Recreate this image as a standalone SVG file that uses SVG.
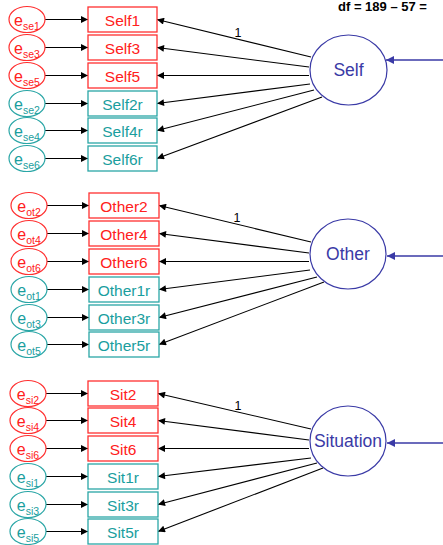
<svg xmlns="http://www.w3.org/2000/svg" width="443" height="545" viewBox="0 0 443 545">
  <defs>
    <marker id="ah" viewBox="0 0 10 10" refX="10" refY="5" markerWidth="8" markerHeight="7" markerUnits="userSpaceOnUse" orient="auto">
      <path d="M0,0 L10,5 L0,10 z" fill="#000"/>
    </marker>
    <marker id="ahb" viewBox="0 0 10 10" refX="10" refY="5" markerWidth="8" markerHeight="8" markerUnits="userSpaceOnUse" orient="auto">
      <path d="M0,0 L10,5 L0,10 z" fill="#3a3aa6"/>
    </marker>
    <style>
      text { font-family: "Liberation Sans", Arial, sans-serif; }
      .bx-r { fill: #fff; stroke: #ff3030; stroke-width: 1.3; }
      .bx-t { fill: #fff; stroke: #2aa6a6; stroke-width: 1.3; }
      .el-r { fill: #fff; stroke: #ff3030; stroke-width: 1.2; }
      .el-t { fill: #fff; stroke: #2aa6a6; stroke-width: 1.2; }
      .tr { fill: #ff2020; font-size: 15.5px; text-anchor: middle; }
      .tt { fill: #1a9e9e; font-size: 15.5px; text-anchor: middle; }
      .er { fill: #ff2020; font-size: 16px; text-anchor: middle; }
      .et { fill: #1a9e9e; font-size: 16px; text-anchor: middle; }
      .sub { font-size: 10.5px; }
      .lat { fill: #fff; stroke: #3a3aa6; stroke-width: 1.2; }
      .lt { fill: #3a3aa6; font-size: 17.5px; text-anchor: middle; }
      .ln { stroke: #000; stroke-width: 1.1; fill: none; marker-end: url(#ah); }
      .lb { stroke: #3a3aa6; stroke-width: 1.3; fill: none; marker-end: url(#ahb); }
      .one { font-size: 12.5px; fill: #000; text-anchor: middle; }
    </style>
  </defs>

  <text x="338" y="11" font-size="13" font-weight="bold" fill="#000">df = 189 – 57 =</text>

  <!-- connectors -->
  <g id="connectors">
    <!-- errors to indicators: Self -->
    <line class="ln" x1="45" y1="19.5" x2="88" y2="19.5"/>
    <line class="ln" x1="45" y1="47.5" x2="88" y2="47.5"/>
    <line class="ln" x1="45" y1="75.5" x2="88" y2="75.5"/>
    <line class="ln" x1="45" y1="103.5" x2="88" y2="103.5"/>
    <line class="ln" x1="45" y1="130.5" x2="88" y2="130.5"/>
    <line class="ln" x1="45" y1="158.5" x2="88" y2="158.5"/>
    <!-- errors to indicators: Other -->
    <line class="ln" x1="47" y1="205.5" x2="89" y2="205.5"/>
    <line class="ln" x1="47" y1="233.5" x2="89" y2="233.5"/>
    <line class="ln" x1="47" y1="261.5" x2="89" y2="261.5"/>
    <line class="ln" x1="47" y1="289.5" x2="89" y2="289.5"/>
    <line class="ln" x1="47" y1="317.5" x2="89" y2="317.5"/>
    <line class="ln" x1="47" y1="344.5" x2="89" y2="344.5"/>
    <!-- errors to indicators: Situation -->
    <line class="ln" x1="46" y1="393.5" x2="88" y2="393.5"/>
    <line class="ln" x1="46" y1="420.5" x2="88" y2="420.5"/>
    <line class="ln" x1="46" y1="448.5" x2="88" y2="448.5"/>
    <line class="ln" x1="46" y1="476.5" x2="88" y2="476.5"/>
    <line class="ln" x1="46" y1="504.5" x2="88" y2="504.5"/>
    <line class="ln" x1="46" y1="531.5" x2="88" y2="531.5"/>

    <!-- loadings: Self -->
    <line class="ln" x1="311" y1="57" x2="157" y2="19.5"/>
    <line class="ln" x1="309" y1="67" x2="157" y2="47.5"/>
    <line class="ln" x1="309" y1="75.5" x2="157" y2="75.5"/>
    <line class="ln" x1="310" y1="84" x2="157" y2="103.5"/>
    <line class="ln" x1="314" y1="90" x2="157" y2="130.5"/>
    <line class="ln" x1="322" y1="97" x2="157" y2="158.5"/>
    <!-- loadings: Other -->
    <line class="ln" x1="311" y1="242" x2="159" y2="205.5"/>
    <line class="ln" x1="309" y1="253" x2="159" y2="233.5"/>
    <line class="ln" x1="309" y1="261.5" x2="159" y2="261.5"/>
    <line class="ln" x1="310" y1="270" x2="159" y2="289.5"/>
    <line class="ln" x1="317" y1="277" x2="159" y2="317.5"/>
    <line class="ln" x1="324" y1="282" x2="159" y2="344.5"/>
    <!-- loadings: Situation -->
    <line class="ln" x1="311" y1="429" x2="158" y2="393.5"/>
    <line class="ln" x1="309" y1="440" x2="158" y2="420.5"/>
    <line class="ln" x1="309" y1="448.5" x2="158" y2="448.5"/>
    <line class="ln" x1="311" y1="458" x2="158" y2="476.5"/>
    <line class="ln" x1="317" y1="463" x2="158" y2="504.5"/>
    <line class="ln" x1="323" y1="468" x2="158" y2="531.5"/>

    <!-- incoming paths to latent factors -->
    <line class="lb" x1="443" y1="60" x2="386" y2="60"/>
    <line class="lb" x1="443" y1="256" x2="387" y2="256"/>
    <line class="lb" x1="443" y1="443" x2="387" y2="443"/>

    <text class="one" x="238" y="37">1</text>
    <text class="one" x="237" y="222">1</text>
    <text class="one" x="238" y="410">1</text>
  </g>

  <!-- latent factors -->
  <g id="Self"><ellipse class="lat" cx="348.5" cy="70" rx="38.5" ry="35"/><text class="lt" x="348.5" y="76">Self</text></g>
  <g id="Other"><ellipse class="lat" cx="348" cy="254" rx="38" ry="35"/><text class="lt" x="348" y="260">Other</text></g>
  <g id="Situation"><ellipse class="lat" cx="348" cy="441" rx="38" ry="35"/><text class="lt" x="348" y="447">Situation</text></g>

  <!-- Self indicators -->
  <g id="Self1"><rect class="bx-r" x="88" y="7" width="69" height="25"/><text class="tr" x="122.5" y="25.5">Self1</text></g>
  <g id="Self3"><rect class="bx-r" x="88" y="35" width="69" height="25"/><text class="tr" x="122.5" y="53.5">Self3</text></g>
  <g id="Self5"><rect class="bx-r" x="88" y="63" width="69" height="25"/><text class="tr" x="122.5" y="81.5">Self5</text></g>
  <g id="Self2r"><rect class="bx-t" x="88" y="91" width="69" height="25"/><text class="tt" x="122.5" y="109.5">Self2r</text></g>
  <g id="Self4r"><rect class="bx-t" x="88" y="118" width="69" height="25"/><text class="tt" x="122.5" y="136.5">Self4r</text></g>
  <g id="Self6r"><rect class="bx-t" x="88" y="146" width="69" height="25"/><text class="tt" x="122.5" y="164.5">Self6r</text></g>

  <!-- Self errors -->
  <g id="ese1"><ellipse class="el-r" cx="27" cy="19.5" rx="18" ry="13"/><text class="er" x="27" y="25.5">e<tspan class="sub" dy="4">se1</tspan></text></g>
  <g id="ese3"><ellipse class="el-r" cx="27" cy="47.5" rx="18" ry="13"/><text class="er" x="27" y="53.5">e<tspan class="sub" dy="4">se3</tspan></text></g>
  <g id="ese5"><ellipse class="el-r" cx="27" cy="75.5" rx="18" ry="13"/><text class="er" x="27" y="81.5">e<tspan class="sub" dy="4">se5</tspan></text></g>
  <g id="ese2"><ellipse class="el-t" cx="27" cy="103.5" rx="18" ry="13"/><text class="et" x="27" y="109.5">e<tspan class="sub" dy="4">se2</tspan></text></g>
  <g id="ese4"><ellipse class="el-t" cx="27" cy="130.5" rx="18" ry="13"/><text class="et" x="27" y="136.5">e<tspan class="sub" dy="4">se4</tspan></text></g>
  <g id="ese6"><ellipse class="el-t" cx="27" cy="158.5" rx="18" ry="13"/><text class="et" x="27" y="164.5">e<tspan class="sub" dy="4">se6</tspan></text></g>

  <!-- Other indicators -->
  <g id="Other2"><rect class="bx-r" x="89" y="193" width="70" height="25"/><text class="tr" x="124" y="211.5">Other2</text></g>
  <g id="Other4"><rect class="bx-r" x="89" y="221" width="70" height="25"/><text class="tr" x="124" y="239.5">Other4</text></g>
  <g id="Other6"><rect class="bx-r" x="89" y="249" width="70" height="25"/><text class="tr" x="124" y="267.5">Other6</text></g>
  <g id="Other1r"><rect class="bx-t" x="89" y="277" width="70" height="25"/><text class="tt" x="124" y="295.5">Other1r</text></g>
  <g id="Other3r"><rect class="bx-t" x="89" y="305" width="70" height="25"/><text class="tt" x="124" y="323.5">Other3r</text></g>
  <g id="Other5r"><rect class="bx-t" x="89" y="332" width="70" height="25"/><text class="tt" x="124" y="350.5">Other5r</text></g>

  <!-- Other errors -->
  <g id="eot2"><ellipse class="el-r" cx="29" cy="205.5" rx="18" ry="13"/><text class="er" x="29" y="211.5">e<tspan class="sub" dy="4">ot2</tspan></text></g>
  <g id="eot4"><ellipse class="el-r" cx="29" cy="233.5" rx="18" ry="13"/><text class="er" x="29" y="239.5">e<tspan class="sub" dy="4">ot4</tspan></text></g>
  <g id="eot6"><ellipse class="el-r" cx="29" cy="261.5" rx="18" ry="13"/><text class="er" x="29" y="267.5">e<tspan class="sub" dy="4">ot6</tspan></text></g>
  <g id="eot1"><ellipse class="el-t" cx="29" cy="289.5" rx="18" ry="13"/><text class="et" x="29" y="295.5">e<tspan class="sub" dy="4">ot1</tspan></text></g>
  <g id="eot3"><ellipse class="el-t" cx="29" cy="317.5" rx="18" ry="13"/><text class="et" x="29" y="323.5">e<tspan class="sub" dy="4">ot3</tspan></text></g>
  <g id="eot5"><ellipse class="el-t" cx="29" cy="344.5" rx="18" ry="13"/><text class="et" x="29" y="350.5">e<tspan class="sub" dy="4">ot5</tspan></text></g>

  <!-- Situation indicators -->
  <g id="Sit2"><rect class="bx-r" x="88" y="381" width="70" height="25"/><text class="tr" x="123" y="399.5">Sit2</text></g>
  <g id="Sit4"><rect class="bx-r" x="88" y="408" width="70" height="25"/><text class="tr" x="123" y="426.5">Sit4</text></g>
  <g id="Sit6"><rect class="bx-r" x="88" y="436" width="70" height="25"/><text class="tr" x="123" y="454.5">Sit6</text></g>
  <g id="Sit1r"><rect class="bx-t" x="88" y="464" width="70" height="25"/><text class="tt" x="123" y="482.5">Sit1r</text></g>
  <g id="Sit3r"><rect class="bx-t" x="88" y="492" width="70" height="25"/><text class="tt" x="123" y="510.5">Sit3r</text></g>
  <g id="Sit5r"><rect class="bx-t" x="88" y="519" width="70" height="25"/><text class="tt" x="123" y="537.5">Sit5r</text></g>

  <!-- Situation errors -->
  <g id="esi2"><ellipse class="el-r" cx="28" cy="393.5" rx="18" ry="13"/><text class="er" x="28" y="399.5">e<tspan class="sub" dy="4">si2</tspan></text></g>
  <g id="esi4"><ellipse class="el-r" cx="28" cy="420.5" rx="18" ry="13"/><text class="er" x="28" y="426.5">e<tspan class="sub" dy="4">si4</tspan></text></g>
  <g id="esi6"><ellipse class="el-r" cx="28" cy="448.5" rx="18" ry="13"/><text class="er" x="28" y="454.5">e<tspan class="sub" dy="4">si6</tspan></text></g>
  <g id="esi1"><ellipse class="el-t" cx="28" cy="476.5" rx="18" ry="13"/><text class="et" x="28" y="482.5">e<tspan class="sub" dy="4">si1</tspan></text></g>
  <g id="esi3"><ellipse class="el-t" cx="28" cy="504.5" rx="18" ry="13"/><text class="et" x="28" y="510.5">e<tspan class="sub" dy="4">si3</tspan></text></g>
  <g id="esi5"><ellipse class="el-t" cx="28" cy="531.5" rx="18" ry="13"/><text class="et" x="28" y="537.5">e<tspan class="sub" dy="4">si5</tspan></text></g>
</svg>
